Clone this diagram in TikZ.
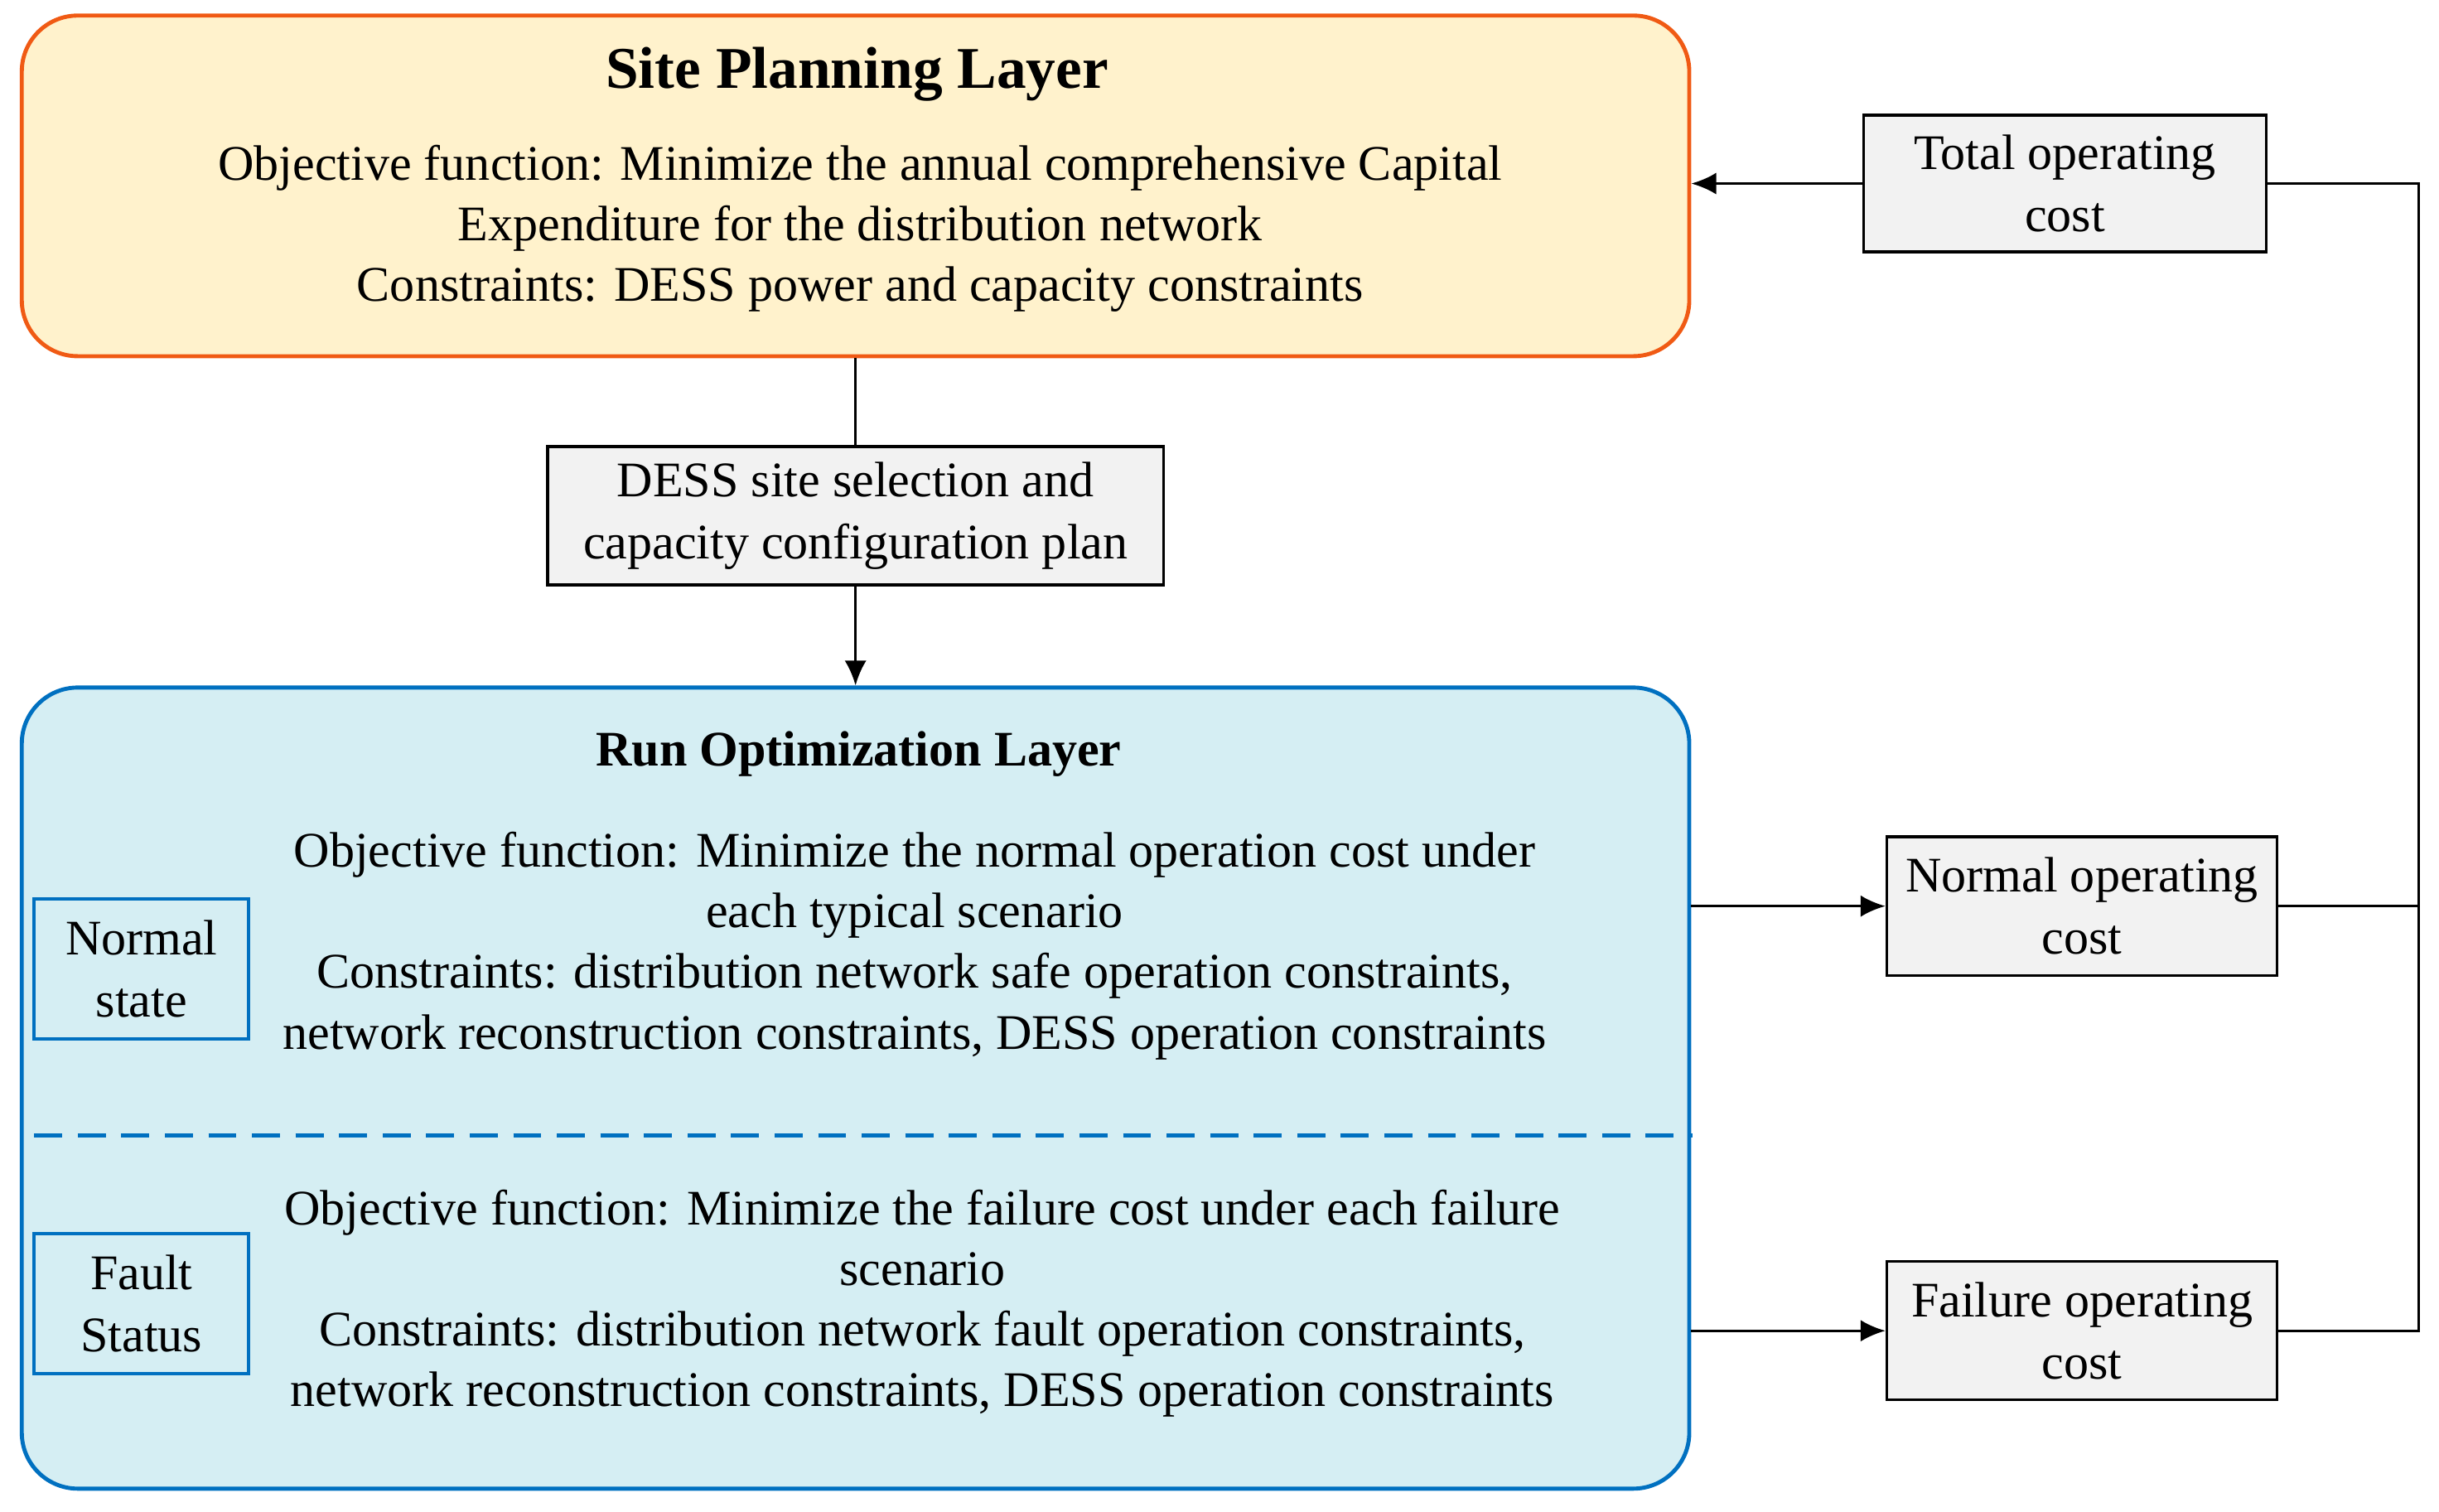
\documentclass[tikz,border=0pt]{standalone}
\usepackage{fontspec}
\setmainfont{Liberation Serif}
\usetikzlibrary{arrows.meta}
\definecolor{orfill}{HTML}{FFF2CC}
\definecolor{ordraw}{HTML}{F05A14}
\definecolor{blfill}{HTML}{D5EEF3}
\definecolor{bldraw}{HTML}{0070C0}
\definecolor{gfill}{HTML}{F2F2F2}
\begin{document}
\begin{tikzpicture}[x=0.5pt,y=-0.5pt,
  lay/.style={rounded corners=18pt,line width=1.3pt,inner sep=0},
  gbox/.style={draw,fill=gfill,line width=0.9pt,inner sep=0,align=center,font=\fontsize{16}{20}\selectfont},
  sbox/.style={draw=bldraw,line width=1.1pt,inner sep=0,align=center,font=\fontsize{16}{20}\selectfont},
  txt/.style={align=center,font=\fontsize{16}{19.5}\selectfont,inner sep=0},
  arr/.style={-{Latex[length=8pt,width=7pt]},line width=0.9pt},
  ln/.style={line width=0.9pt}]
\useasboundingbox (0,0) rectangle (1568,972);
% layers
\node[lay,draw=ordraw,fill=orfill,minimum width=536pt,minimum height=109.5pt] (top) at (550,119.5) {};
\node[lay,draw=bldraw,fill=blfill,minimum width=536pt,minimum height=257.5pt] (run) at (550,699.5) {};
\node[font=\bfseries\fontsize{19}{22}\selectfont] (t1) at (551,48) {Site Planning Layer};
\node[txt] (t1b) at (553,147) {Objective function: Minimize the annual comprehensive Capital\\Expenditure for the distribution network\\Constraints: DESS power and capacity constraints};
\node[font=\bfseries\fontsize{16}{20}\selectfont] (t2) at (552,485) {Run Optimization Layer};
\node[txt] (n1) at (588,608) {Objective function: Minimize the normal operation cost under\\each typical scenario\\Constraints: distribution network safe operation constraints,\\network reconstruction constraints, DESS operation constraints};
\node[txt] (f1) at (593,838) {Objective function: Minimize the failure cost under each failure\\scenario\\Constraints: distribution network fault operation constraints,\\network reconstruction constraints, DESS operation constraints};
\coordinate (dl) at (22,730); \coordinate (dr) at (1088,730);
\draw[bldraw,line width=1.3pt,dash pattern=on 9pt off 5pt] (dl) -- (dr);
\node[sbox,minimum width=69pt,minimum height=45pt] (ns) at (91,623) {Normal\\state};
\node[sbox,minimum width=69pt,minimum height=45pt] (fs) at (91,838) {Fault\\Status};
% grey boxes
\node[gbox,minimum width=198pt,minimum height=44.5pt] (plan) at (550,331.5) {DESS site selection and\\capacity configuration plan};
\node[gbox,minimum width=129.5pt,minimum height=44pt] (tot) at (1327.5,118) {Total operating\\cost};
\node[gbox,minimum width=125.5pt,minimum height=44.5pt] (nor) at (1338.5,582.5) {Normal operating\\cost};
\node[gbox,minimum width=125.5pt,minimum height=44.5pt] (fai) at (1338.5,855.5) {Failure operating\\cost};
% connectors
\draw[ln] (top.south) -- (plan.north);
\draw[arr] (plan.south) -- (run.north);
\draw[arr] (tot.west) -- (top.east |- tot.west);
\draw[arr] (run.east |- nor.west) -- (nor.west);
\draw[arr] (run.east |- fai.west) -- (fai.west);
\coordinate (c1) at (1555,118);
\coordinate (c2) at (1555,855.5);
\draw[ln] (tot.east) -- (c1) -- (c2) -- (fai.east);
\draw[ln] (nor.east) -- (c1 |- nor.east);
\end{tikzpicture}
\end{document}
